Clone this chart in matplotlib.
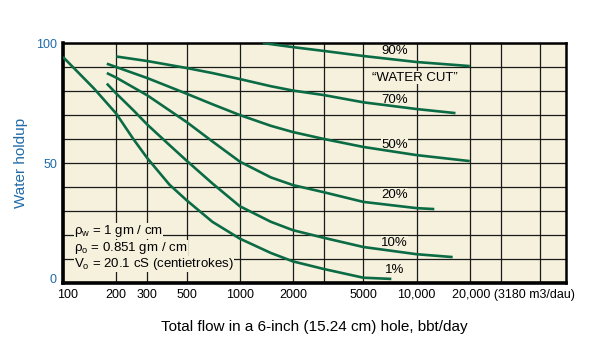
import matplotlib
matplotlib.use("Agg")
import matplotlib.pyplot as plt
from matplotlib.transforms import offset_copy, ScaledTranslation

plt.rcParams['font.family'] = ['Liberation Sans', 'DejaVu Sans']
plt.rcParams['mathtext.fontset'] = 'custom'
plt.rcParams['mathtext.rm'] = 'Liberation Sans'
plt.rcParams['mathtext.it'] = 'Liberation Sans'

# water cut curves, flow (bbl/day) vs water holdup (%)
flow_90 = [1350, 2000, 3000, 5000, 10000, 20000]
hold_90 = [100, 98.3, 96.7, 94.6, 92.1, 90.4]

flow_70 = [200, 300, 500, 700, 1000, 1500, 2000, 3000, 5000, 10000, 16600]
hold_70 = [94.4, 92.5, 89.6, 87.5, 85, 82, 80.2, 78.3, 75.3, 72.5, 70.8]

flow_50 = [177, 200, 300, 500, 700, 1000, 1500, 2000, 3000, 5000, 10000, 20000]
hold_50 = [91.4, 90, 85.4, 78.9, 74.5, 70, 65.5, 62.9, 60, 56.7, 53.3, 50.8]

flow_20 = [177, 200, 300, 500, 700, 1000, 1500, 2000, 3000, 5000, 10000, 12600]
hold_20 = [87.5, 85.6, 78.2, 67.1, 59, 50.6, 44, 40.8, 37.8, 33.8, 31.2, 30.8]

flow_10 = [177, 200, 250, 300, 400, 500, 700, 1000, 1500, 2000, 3000, 5000, 10000, 16000]
hold_10 = [83.1, 79, 72, 66, 57.5, 51, 41.5, 32, 25.5, 22, 18.8, 15, 12, 10.8]

flow_1 = [100, 150, 200, 250, 300, 400, 500, 700, 1000, 1500, 2000, 3000, 5000, 7200]
hold_1 = [94.2, 81, 70.6, 60, 52, 41, 34.5, 25.5, 18.5, 12.5, 9, 5.8, 2.2, 1.7]

curves = [(flow_90, hold_90), (flow_70, hold_70), (flow_50, hold_50),
          (flow_20, hold_20), (flow_10, hold_10), (flow_1, hold_1)]

cut_labels = ['90%', '70%', '50%', '20%', '10%', '1%']
label_y = [96.6, 76.2, 57.5, 36.7, 16.7, 5.4]

x_ticks = [100, 200, 300, 500, 1000, 2000, 3000, 5000, 10000, 20000, 30000, 50000]
x_ticklabels = ['100', '200', '300', '500', '1000', '2000', '', '5000', '10,000', '', '', '']
y_ticks = list(range(0, 101, 10))
y_ticklabels = ['0', '', '', '', '', '50', '', '', '', '', '100']

fluid_notes = [r'$\rho_\mathrm{w}$ = 1 gm / cm',
               r'$\rho_\mathrm{o}$ = 0.851 gm / cm',
               r'V$_\mathrm{o}$ = 20.1 cS (centietrokes)']
notes_y = [21.6, 14.7, 7.8]

green = '#0b6b45'
blue = '#1f6aa8'
cream = '#f6f1dd'

fig = plt.figure(figsize=(5.97, 3.63), dpi=100)
ax = fig.add_axes([0.1055, 0.2204, 0.8425, 0.661])
ax.set_facecolor(cream)

ax.set_xscale('log')
ax.set_xlim(100, 70000)
ax.set_ylim(0, 100)
ax.set_xticks(x_ticks)
ax.set_xticklabels(x_ticklabels, fontsize=9)
ax.xaxis.set_minor_locator(matplotlib.ticker.NullLocator())
ax.set_yticks(y_ticks)
ax.set_yticklabels(y_ticklabels, fontsize=9, color=blue)
ax.tick_params(length=0, pad=4)
ax.grid(True, color='#1a1a1a', linewidth=0.9)
ax.set_axisbelow(True)

# nudge the corner labels apart like the original
xl = ax.get_xticklabels()[0]
xl.set_transform(xl.get_transform() + ScaledTranslation(3 / 72, 0, fig.dpi_scale_trans))
yl = ax.get_yticklabels()[0]
yl.set_transform(yl.get_transform() + ScaledTranslation(-1 / 72, 3 / 72, fig.dpi_scale_trans))

for side in ['left', 'bottom']:
    ax.spines[side].set_linewidth(2.6)
for side in ['top', 'right']:
    ax.spines[side].set_linewidth(1.8)

for fx, hy in curves:
    ax.plot(fx, hy, color=green, linewidth=1.9, solid_capstyle='butt', zorder=5)

box = dict(facecolor=cream, edgecolor='none', pad=0.4)
for lab, ly in zip(cut_labels, label_y):
    ax.text(7500, ly, lab, ha='center', va='center', fontsize=9.5, bbox=box, zorder=4)
ax.text(9800, 85.5, '\u201cWATER CUT\u201d', ha='center', va='center', fontsize=9.5,
        bbox=box, zorder=4)

note_box = dict(facecolor=cream, edgecolor='none', pad=0.0)
for note, ny in zip(fluid_notes, notes_y):
    ax.text(116, ny, note, fontsize=9.5, va='center', ha='left', bbox=note_box, zorder=4)

# 20,000 tick label carries the metric note to the right
tr = offset_copy(ax.get_xaxis_transform(), fig=fig, x=-12.5, y=-4, units='points')
ax.text(20000, 0, '20,000 (3180 m3/dau)', transform=tr, ha='left', va='top', fontsize=9)

ax.set_xlabel('Total flow in a 6-inch (15.24 cm) hole, bbt/day', fontsize=11, labelpad=14)
ax.set_ylabel('Water holdup', fontsize=11, color=blue, labelpad=6)

fig.savefig('out.png', dpi=100, facecolor='white')
